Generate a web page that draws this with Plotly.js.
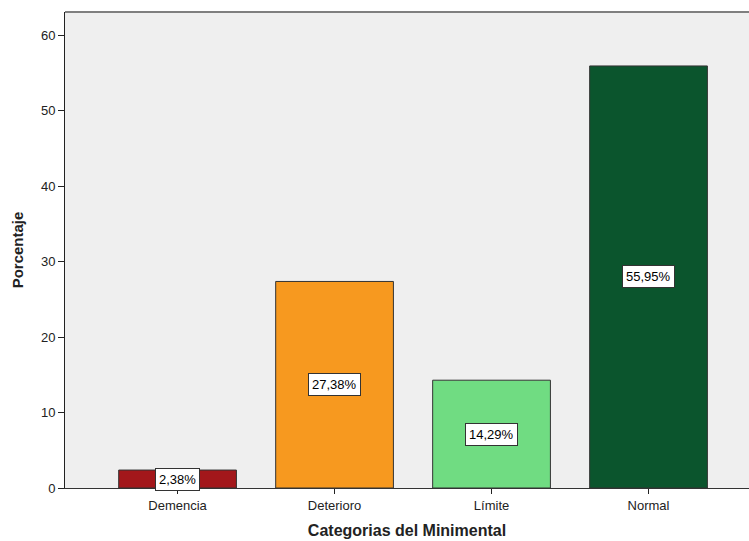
<!DOCTYPE html>
<html>
<head>
<meta charset="utf-8">
<script src="https://cdn.plot.ly/plotly-3.0.1.min.js"></script>
<style>html,body{margin:0;padding:0;background:#fff;}#chart{width:749px;height:541px;}</style>
</head>
<body>
<div id="chart"></div>
<script>
const categories = ["Demencia", "Deterioro", "Límite", "Normal"];
const values = [2.38, 27.38, 14.29, 55.95];
const barColors = ["#a3171b", "#f7991f", "#70dc82", "#0b552d"];
const yTicks = [0, 10, 20, 30, 40, 50, 60];

const fmt = v => v.toFixed(2).replace(".", ",") + "%";

const trace = {
  type: "bar",
  x: categories,
  y: values,
  width: 0.75,
  marker: {color: barColors, line: {color: "#333333", width: 1}},
  hoverinfo: "skip"
};

const annotations = categories.map((c, i) => ({
  x: c, y: values[i] / 2, xref: "x", yref: "y",
  text: fmt(values[i]), showarrow: false,
  font: {family: "Liberation Sans, Arial, sans-serif", size: 13, color: "#000"},
  bgcolor: "#ffffff", bordercolor: "#333333", borderwidth: 1, borderpad: 3
}));

const layout = {
  width: 749, height: 541,
  margin: {l: 65, r: 0, t: 12, b: 53, pad: 0},
  paper_bgcolor: "#ffffff",
  plot_bgcolor: "#efefef",
  showlegend: false,
  font: {family: "Liberation Sans, Arial, sans-serif", size: 13, color: "#222"},
  xaxis: {
    type: "category",
    range: [-0.717, 3.64],
    showgrid: false, zeroline: false,
    showline: true, linecolor: "#333", linewidth: 1,
    ticks: "outside", ticklen: 5, tickcolor: "#222", tickwidth: 1,
    tickfont: {size: 13, color: "#222"},
    title: {text: "Categorias del Minimental", font: {size: 16, color: "#222", family: "Liberation Sans, Arial, sans-serif", weight: "bold"}, standoff: 13}
  },
  yaxis: {
    range: [0, 63.1],
    tickvals: yTicks, ticktext: yTicks.map(String),
    showgrid: false, zeroline: false,
    showline: true, linecolor: "#222", linewidth: 1,
    ticks: "outside", ticklen: 6, tickcolor: "#222", tickwidth: 1,
    tickfont: {size: 13, color: "#222"},
    title: {text: "Porcentaje", font: {size: 15, color: "#222", family: "Liberation Sans, Arial, sans-serif", weight: "bold"}, standoff: 13}
  },
  shapes: [{type: "line", xref: "paper", yref: "paper", x0: 0, x1: 1, y0: 1, y1: 1, line: {color: "#7f7f7f", width: 2}}],
  annotations: annotations
};

Plotly.newPlot("chart", [trace], layout, {displayModeBar: false, staticPlot: true});
</script>
</body>
</html>
